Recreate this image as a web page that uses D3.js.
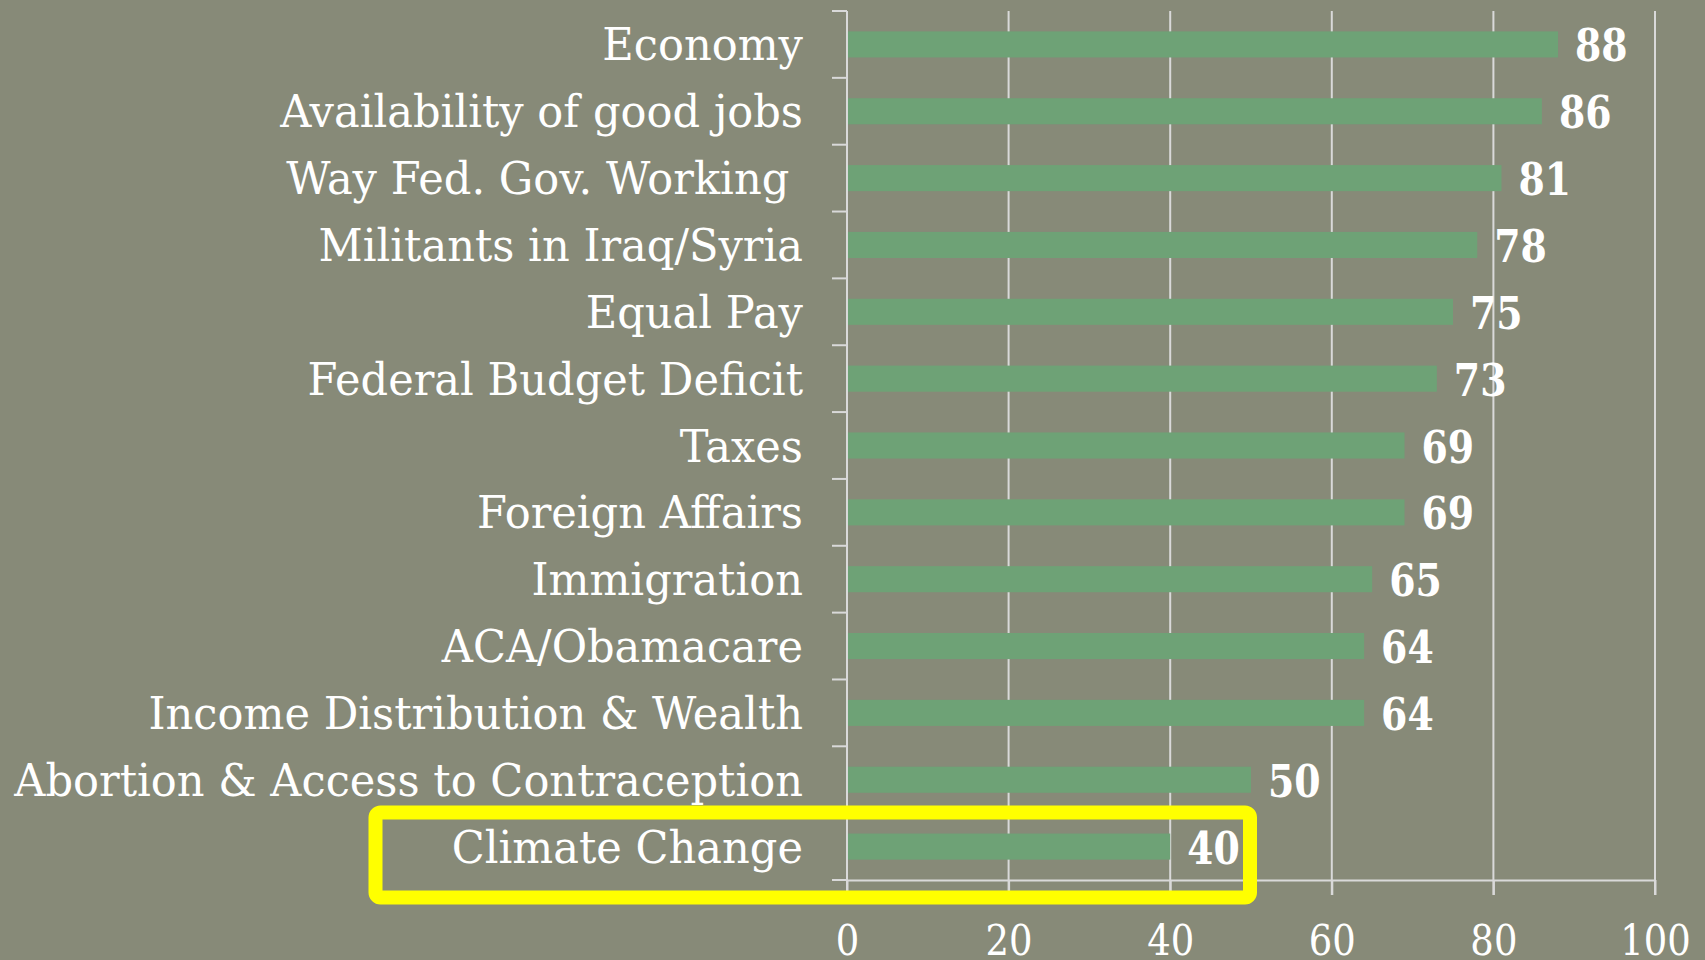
<!DOCTYPE html>
<html>
<head>
<meta charset="utf-8">
<script src="https://cdn.jsdelivr.net/npm/d3@7"></script>
<style>
  html, body { margin: 0; padding: 0; background: #878a78; }
  svg { display: block; }
</style>
</head>
<body>
<svg id="chart" width="1705" height="960"></svg>
<script>
const categories = [
  "Economy",
  "Availability of good jobs",
  "Way Fed. Gov. Working ",
  "Militants in Iraq/Syria",
  "Equal Pay",
  "Federal Budget Deficit",
  "Taxes",
  "Foreign Affairs",
  "Immigration",
  "ACA/Obamacare",
  "Income Distribution & Wealth",
  "Abortion & Access to Contraception",
  "Climate Change"
];
const values = [88, 86, 81, 78, 75, 73, 69, 69, 65, 64, 64, 50, 40];
const xTicks = [0, 20, 40, 60, 80, 100];
const highlighted = ["Climate Change"];
const highlightExtent = [50];

(function () {
const svg = d3.select("#chart");
const mLeft = 847, mRight = 1655, mTop = 11, mBottom = 880;

const x = d3.scaleLinear().domain([0, 100]).range([mLeft, mRight]);
const y = d3.scaleBand().domain(categories).range([mTop, mBottom]).paddingInner(0.61).paddingOuter(0.305);
const step = y.step();

const gridColor = "#d9d9d9";
const barColor = "#6ea276";

// gridlines
svg.append("g").selectAll("line").data(xTicks.filter(d => d > 0)).join("line")
  .attr("x1", d => x(d)).attr("x2", d => x(d))
  .attr("y1", mTop).attr("y2", mBottom + 15)
  .attr("stroke", gridColor).attr("stroke-width", 2);

// bottom axis
const xAxis = d3.axisBottom(x).tickValues(xTicks).tickSize(15).tickSizeOuter(0).tickFormat(d3.format("d"));
const gx = svg.append("g").attr("transform", `translate(0,${mBottom})`).call(xAxis);
gx.select(".domain").attr("stroke", gridColor).attr("stroke-width", 2);
gx.selectAll(".tick line").attr("stroke", gridColor).attr("stroke-width", 2);
gx.selectAll(".tick text")
  .attr("fill", "#ffffff")
  .attr("font-family", "'DejaVu Serif', serif")
  .attr("font-size", 43)
  .attr("dy", null)
  .attr("y", 75)
  .attr("transform", "scale(0.86,1)");

// left axis line and category boundary ticks
svg.append("line")
  .attr("x1", mLeft).attr("x2", mLeft).attr("y1", mTop).attr("y2", mBottom + 15)
  .attr("stroke", gridColor).attr("stroke-width", 2);
const boundaries = d3.range(categories.length + 1).map(i => mTop + i * step);
svg.append("g").selectAll("line").data(boundaries).join("line")
  .attr("x1", mLeft - 15).attr("x2", mLeft)
  .attr("y1", d => d).attr("y2", d => d)
  .attr("stroke", gridColor).attr("stroke-width", 2);

// bars
svg.append("g").selectAll("rect").data(categories).join("rect")
  .attr("x", x(0) + 1)
  .attr("y", d => y(d))
  .attr("width", (d, i) => x(values[i]) - x(0) - 1)
  .attr("height", y.bandwidth())
  .attr("fill", barColor);

// category labels
const labelRight = 803;
const catLabels = svg.append("g").selectAll("text").data(categories).join("text")
  .attr("text-anchor", "end")
  .attr("fill", "#ffffff")
  .attr("font-family", "'DejaVu Serif', serif")
  .attr("font-size", 44)
  .style("white-space", "pre")
  .text(d => d);
let maxW = 0;
catLabels.each(function () { maxW = Math.max(maxW, this.getComputedTextLength()); });
const kx = (labelRight - 14) / maxW;
catLabels.attr("transform", d => `translate(${labelRight},${y(d) + y.bandwidth() / 2 + 16}) scale(${kx},1)`);

// value labels
svg.append("g").selectAll("text").data(categories).join("text")
  .attr("fill", "#ffffff")
  .attr("font-family", "'DejaVu Serif', serif")
  .attr("font-weight", "bold")
  .attr("font-size", 44)
  .attr("transform", (d, i) => `translate(${x(values[i]) + 17},${y(d) + y.bandwidth() / 2 + 17}) scale(0.86,1)`)
  .text((d, i) => values[i]);

// highlight box
highlighted.forEach((c, i) => {
  const cy = y(c) + y.bandwidth() / 2;
  const bx0 = 375.5;
  const bx1 = x(highlightExtent[i]) + 1;
  svg.append("rect")
    .attr("x", bx0)
    .attr("y", cy - 34)
    .attr("width", bx1 - bx0 - 2)
    .attr("height", 85)
    .attr("rx", 5)
    .attr("fill", "none")
    .attr("stroke", "#ffff00")
    .attr("stroke-width", 14);
});
})();
</script>
</body>
</html>
